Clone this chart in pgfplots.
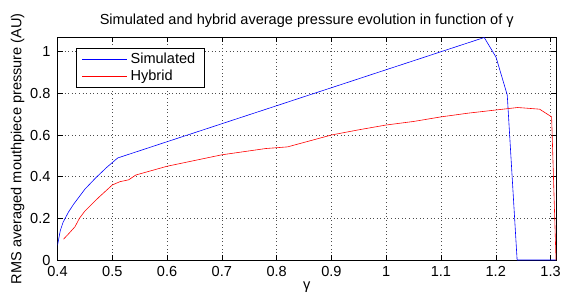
\documentclass[border=0pt]{standalone}
\usepackage{fontspec}
\setmainfont{Liberation Sans}
\usepackage{pgfplots}
\pgfplotsset{compat=1.18}
\begin{document}
\fontsize{14.6}{16}\selectfont
\begin{tikzpicture}
\begin{axis}[
  scale only axis,
  width=498.5bp, height=222.7bp,
  xmin=0.4, xmax=1.31, ymin=0, ymax=1.069,
  xtick={0.4,0.5,...,1.3},
  ytick={0,0.2,0.4,0.6,0.8,1},
  xticklabels={0.4,0.5,0.6,0.7,0.8,0.9,1,1.1,1.2,1.3},
  yticklabels={0,0.2,0.4,0.6,0.8,1},
  tick align=inside, tick pos=both,
  major tick length=5bp,
  axis line style={line width=0.8pt},
  every tick/.style={black, line width=0.5pt},
  grid=major,
  major grid style={black!70, line width=0.5pt, dash pattern=on 0.6pt off 3pt},
  title={Simulated and hybrid average pressure evolution in function of γ},
  title style={yshift=-1bp},
  xlabel={γ},
  ylabel={RMS averaged mouthpiece pressure (AU)},
  xlabel style={yshift=4bp},
  ylabel style={yshift=-4bp},
  xticklabel style={yshift=-1bp},
  yticklabel style={xshift=-2bp},
  /pgf/number format/assume math mode=true,
  legend style={at={(0.0365,0.951)}, anchor=north west, draw=black, line width=0.6pt,
    inner xsep=6bp, inner ysep=2bp, row sep=1bp, font=\fontsize{14.6}{16}\selectfont,
    nodes={inner xsep=3bp}},
  legend cell align=left,
  legend image code/.code={\draw[#1] (0bp,0bp) -- (45bp,0bp);},
]
\addplot[color=blue, line width=0.6pt] coordinates {
(0.400,0.07) (0.405,0.14) (0.410,0.18) (0.420,0.23) (0.430,0.27)
(0.450,0.34) (0.470,0.395) (0.490,0.445) (0.510,0.490)
(1.179,1.068) (1.2006,0.973) (1.221,0.792) (1.239,0.0) (1.31,0.0)
};
\addlegendentry{Simulated}
\addplot[color=red, line width=0.6pt] coordinates {
(0.411,0.10) (0.42,0.125) (0.432,0.16) (0.44,0.20) (0.45,0.235)
(0.475,0.30) (0.50,0.36) (0.514,0.376) (0.53,0.385) (0.543,0.408)
(0.60,0.45) (0.70,0.505) (0.78,0.535) (0.82,0.543) (0.90,0.60)
(0.95,0.625) (1.00,0.648) (1.05,0.665) (1.10,0.687) (1.15,0.705)
(1.20,0.72) (1.24,0.732) (1.28,0.724) (1.302,0.687) (1.31,0.0)
};
\addlegendentry{Hybrid}
\end{axis}
\pgfresetboundingbox
\path ([shift={(-57.5bp,-38bp)}]current axis.south west) rectangle ([shift={(5bp,37.3bp)}]current axis.north east);
\end{tikzpicture}
\end{document}
